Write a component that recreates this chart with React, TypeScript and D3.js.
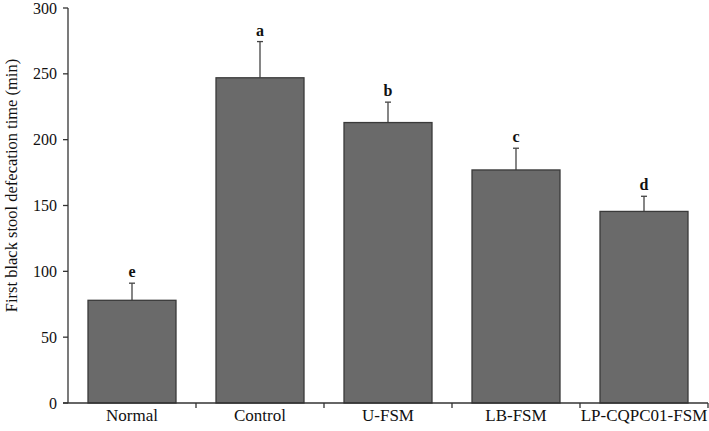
import React from "react";
import * as d3 from "d3";

const categories = ["Normal", "Control", "U-FSM", "LB-FSM", "LP-CQPC01-FSM"];
const means = [78, 247, 213, 177, 145.5];
const errors = [13, 27.5, 15.5, 16.5, 11.5];
const letters = ["e", "a", "b", "c", "d"];
const yTicks = [0, 50, 100, 150, 200, 250, 300];
const yLabel = "First black stool defecation time (min)";

const W = 709;
const H = 431;
const left = 68;
const right = 708;
const top = 8;
const bottom = 403;

export default function App() {
  const x = d3
    .scaleBand<string>()
    .domain(categories)
    .range([left, right])
    .paddingInner(0.3125)
    .paddingOuter(0.15625);
  const y = d3.scaleLinear().domain([0, 300]).range([bottom, top]);
  const step = x.step();
  const axisColor = "#333";
  const serif = "'Liberation Serif', 'Times New Roman', serif";

  return (
    <div style={{ position: "absolute", left: 0, top: 0 }}>
      <svg width={W} height={H} style={{ display: "block", background: "#fff" }}>
        {categories.map((c, i) => {
          const bx = x(c)!;
          const cx = bx + x.bandwidth() / 2;
          const yt = y(means[i]);
          const ye = y(means[i] + errors[i]);
          return (
            <g key={c}>
              <line x1={cx} x2={cx} y1={yt} y2={ye} stroke="#444" strokeWidth={1.3} />
              <line x1={cx - 3} x2={cx + 3} y1={ye} y2={ye} stroke="#444" strokeWidth={1.3} />
              <rect
                x={bx}
                y={yt}
                width={x.bandwidth()}
                height={bottom - yt}
                fill="#6a6a6a"
                stroke="#3a3a3a"
                strokeWidth={1.3}
              />
              <text
                x={cx}
                y={ye - 6}
                textAnchor="middle"
                fontFamily={serif}
                fontSize={16}
                fontWeight="bold"
                fill="#111"
              >
                {letters[i]}
              </text>
            </g>
          );
        })}
        <line x1={left} x2={left} y1={y(300)} y2={bottom} stroke={axisColor} strokeWidth={1.3} />
        {yTicks.map((t) => (
          <g key={t}>
            <line x1={left - 5} x2={left} y1={y(t)} y2={y(t)} stroke={axisColor} strokeWidth={1.3} />
            <text
              x={left - 11}
              y={y(t)}
              dy="0.35em"
              textAnchor="end"
              fontFamily={serif}
              fontSize={16}
              fill="#111"
            >
              {t}
            </text>
          </g>
        ))}
        <line x1={left - 5} x2={right} y1={bottom} y2={bottom} stroke={axisColor} strokeWidth={1.3} />
        {categories.map((c, i) => (
          <line
            key={"t" + c}
            x1={left + step * (i + 1)}
            x2={left + step * (i + 1)}
            y1={bottom}
            y2={bottom + 5}
            stroke={axisColor}
            strokeWidth={1.3}
          />
        ))}
        {categories.map((c) => (
          <text
            key={"l" + c}
            x={x(c)! + x.bandwidth() / 2}
            y={421}
            textAnchor="middle"
            fontFamily={serif}
            fontSize={17}
            fill="#111"
          >
            {c}
          </text>
        ))}
        <text
          transform={`translate(17, 185.5) rotate(-90)`}
          textAnchor="middle"
          fontFamily={serif}
          fontSize={16.5}
          fill="#111"
        >
          {yLabel}
        </text>
      </svg>
    </div>
  );
}
